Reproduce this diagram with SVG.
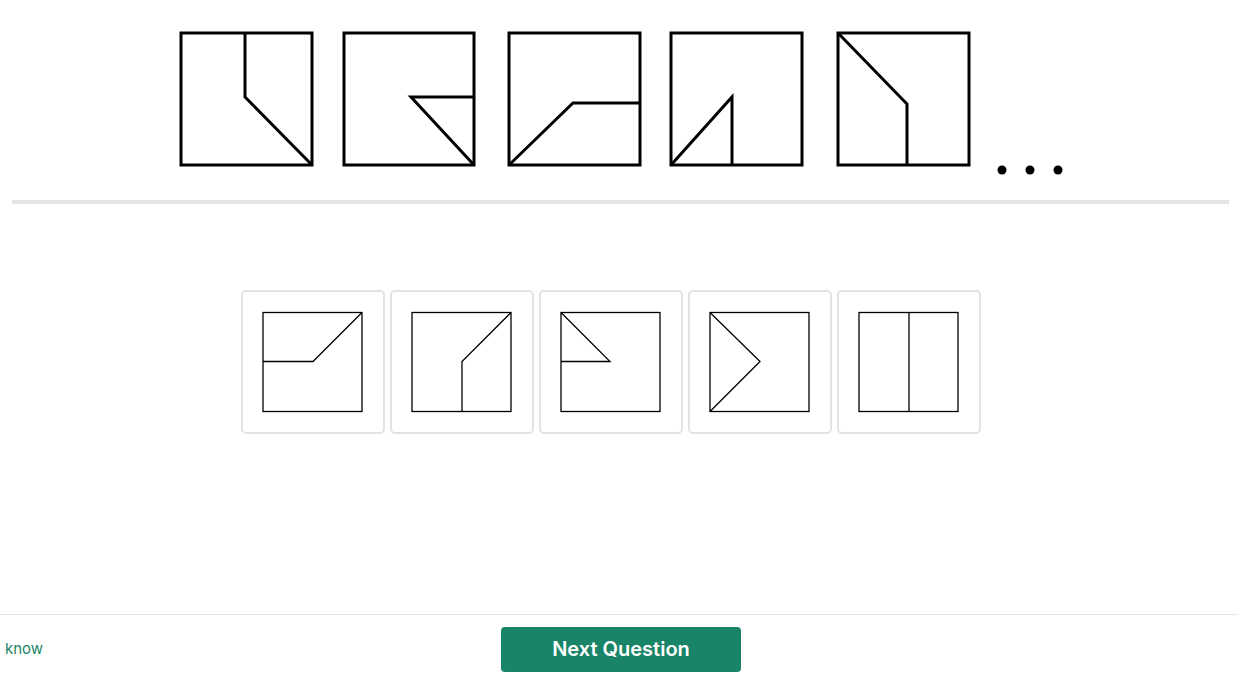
<svg xmlns="http://www.w3.org/2000/svg" width="1237" height="676" viewBox="0 0 1237 676">
<style>
.q{fill:#fff;stroke:#000;stroke-width:3}
.ql{fill:none;stroke:#000;stroke-width:3;stroke-linejoin:miter}
.card{fill:#fff;stroke:#e3e3e3;stroke-width:2}
.o{fill:#fff;stroke:#000;stroke-width:1.3}
.ol{fill:none;stroke:#000;stroke-width:1.3}
</style>
<rect width="1237" height="676" fill="#fff"/>
<g id="q1"><rect class="q" x="181" y="33" width="131" height="132"/><polyline class="ql" points="245,33 245,97 312,165"/></g>
<g id="q2"><rect class="q" x="344" y="33" width="130" height="132"/><polyline class="ql" points="474,97 411,97 474,165"/></g>
<g id="q3"><rect class="q" x="509" y="33" width="131" height="132"/><polyline class="ql" points="509,165 573,103 640,103"/></g>
<g id="q4"><rect class="q" x="671" y="33" width="131" height="132"/><polyline class="ql" points="671,165 732,97 732,165"/></g>
<g id="q5"><rect class="q" x="838" y="33" width="131" height="132"/><polyline class="ql" points="838,33 907,104 907,165"/></g>
<g id="dots" fill="#000"><circle cx="1002" cy="170" r="4.5"/><circle cx="1030" cy="170" r="4.5"/><circle cx="1058" cy="170" r="4.5"/></g>
<rect x="12" y="200" width="1217" height="4" fill="#e5e5e5"/>
<g id="opt1"><rect class="card" x="242" y="291" width="142" height="142" rx="4"/><rect class="o" x="263" y="312.5" width="99" height="99"/><polyline class="ol" points="263,361.5 313,361.5 362,312.5"/></g>
<g id="opt2"><rect class="card" x="391" y="291" width="142" height="142" rx="4"/><rect class="o" x="412" y="312.5" width="99" height="99"/><polyline class="ol" points="462,411.5 462,361.5 511,312.5"/></g>
<g id="opt3"><rect class="card" x="540" y="291" width="142" height="142" rx="4"/><rect class="o" x="561" y="312.5" width="99" height="99"/><polyline class="ol" points="561,312.5 610,361.5 561,361.5"/></g>
<g id="opt4"><rect class="card" x="689" y="291" width="142" height="142" rx="4"/><rect class="o" x="710" y="312.5" width="99" height="99"/><polyline class="ol" points="710,312.5 760,361.5 710,411.5"/></g>
<g id="opt5"><rect class="card" x="838" y="291" width="142" height="142" rx="4"/><rect class="o" x="859" y="312.5" width="99" height="99"/><line class="ol" x1="909" y1="312.5" x2="909" y2="411.5"/></g>
<rect x="0" y="614" width="1237" height="1" fill="#e5e5e5"/>
<text x="5" y="654" font-family="Inter, 'Noto Sans', sans-serif" font-size="15" fill="#1b8566">know</text>
<g id="next"><rect x="501" y="627" width="240" height="45" rx="4" fill="#1a8468"/><text x="621" y="656" text-anchor="middle" font-family="Inter, 'Noto Sans', sans-serif" font-size="20" font-weight="600" fill="#fff">Next Question</text></g>
</svg>
